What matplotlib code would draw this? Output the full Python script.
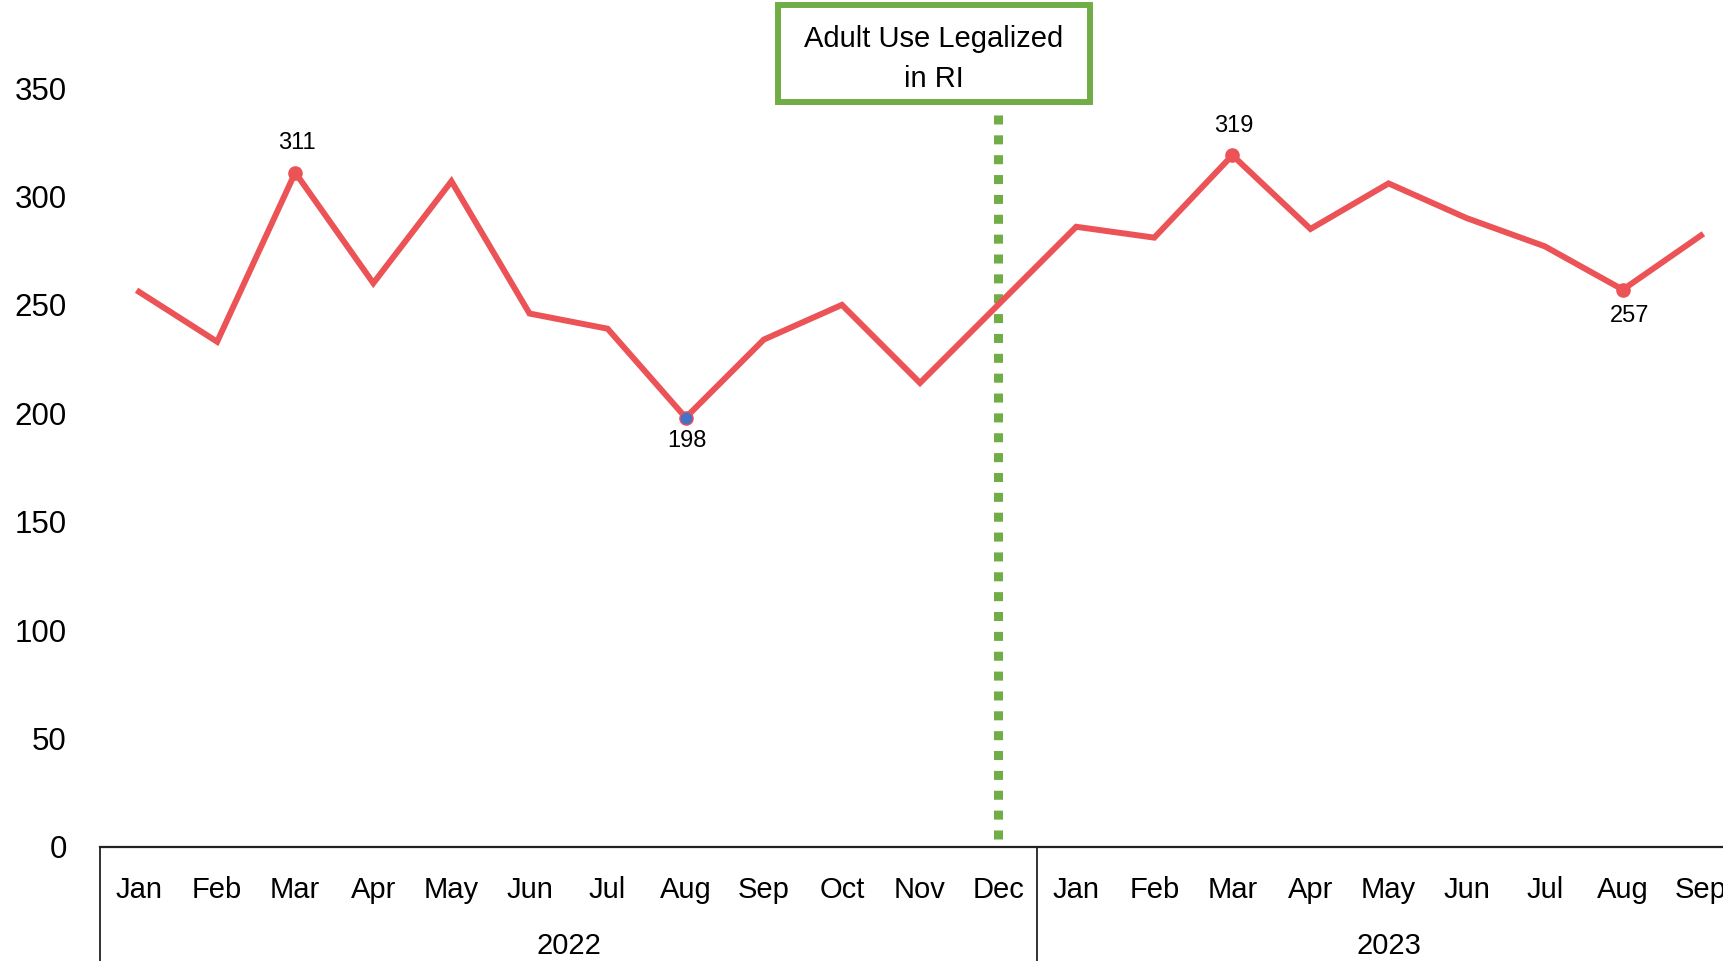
import matplotlib.pyplot as plt
from matplotlib.patches import Rectangle

# Monthly values, Jan 2022 - Sep 2023
months = ['Jan', 'Feb', 'Mar', 'Apr', 'May', 'Jun', 'Jul', 'Aug', 'Sep', 'Oct', 'Nov', 'Dec',
          'Jan', 'Feb', 'Mar', 'Apr', 'May', 'Jun', 'Jul', 'Aug', 'Sep']
values = [256, 233, 311, 260, 307, 246, 239, 198, 234, 250, 214, 250,
          286, 281, 319, 285, 306, 290, 277, 257, 282]
years = ['2022', '2023']
year_lengths = [12, 9]
yticks = [0, 50, 100, 150, 200, 250, 300, 350]

# highlighted points: index -> (label position, colour)
highlights = {2: ('above', '#EB5357'), 7: ('below', '#4472C4'),
              14: ('above', '#EB5357'), 19: ('below', '#EB5357')}
event_label = 'Adult Use Legalized\nin RI'

red = '#EB5357'
green = '#70AD47'
font = 'Liberation Sans'

fig = plt.figure(figsize=(17.23, 9.61), dpi=100)
ax = fig.add_axes([100 / 1723, 114 / 961, 1640 / 1723, 759 / 961])

x = list(range(len(values)))
ax.plot(x, values, color=red, linewidth=4.3, solid_joinstyle='miter', zorder=3)

for i, (pos, col) in highlights.items():
    ax.plot(i, values[i], 'o', markersize=9.5, markerfacecolor=col,
            markeredgecolor=red, markeredgewidth=1, zorder=4)
    if pos == 'above':
        dy = 21
    else:
        dy = -17 if i == 7 else -19
    dx = 5 if i == 19 else 1
    ax.annotate(str(values[i]), (i, values[i]), xytext=(dx, dy), textcoords='offset points',
                ha='center', va='center', fontsize=17, family=font)

# event marker at Dec 2022
ax.axvline(11, ymin=0.01, ymax=0.972, color=green, linewidth=6.5,
           linestyle=(0, (1, 1.2)), zorder=2)

ax.set_xlim(-0.5, len(values) - 0.5)
ax.set_ylim(0, 350)
ax.set_yticks(yticks)
ax.set_yticklabels([str(t) for t in yticks], fontsize=22.5, family=font)
ax.tick_params(axis='y', length=0, pad=24)
ax.set_xticks([])

for s in ['top', 'right', 'left']:
    ax.spines[s].set_visible(False)
ax.spines['bottom'].set_linewidth(1.6)
ax.spines['bottom'].set_color('#222222')

# two-level category axis
trans = ax.get_xaxis_transform()
for i, m in enumerate(months):
    ax.text(i, -0.057, m, transform=trans, ha='center', va='center',
            fontsize=21, family=font, clip_on=False)

start = 0
for yr, n in zip(years, year_lengths):
    ax.text(start + (n - 1) / 2, -0.131, yr, transform=trans, ha='center', va='center',
            fontsize=21, family=font, clip_on=False)
    ax.plot([start - 0.5, start - 0.5], [0, -0.16], transform=trans, color='#222222',
            linewidth=1.3, clip_on=False)
    start += n

# annotation box
fig.patches.append(Rectangle((778 / 1723, 859 / 961), 312 / 1723, 97 / 961,
                             transform=fig.transFigure, fill=False,
                             edgecolor=green, linewidth=4.3))
fig.text(934 / 1723, 902 / 961, event_label, ha='center', va='center',
         fontsize=21, family=font, linespacing=1.55)

fig.savefig('out.png', dpi=100)
